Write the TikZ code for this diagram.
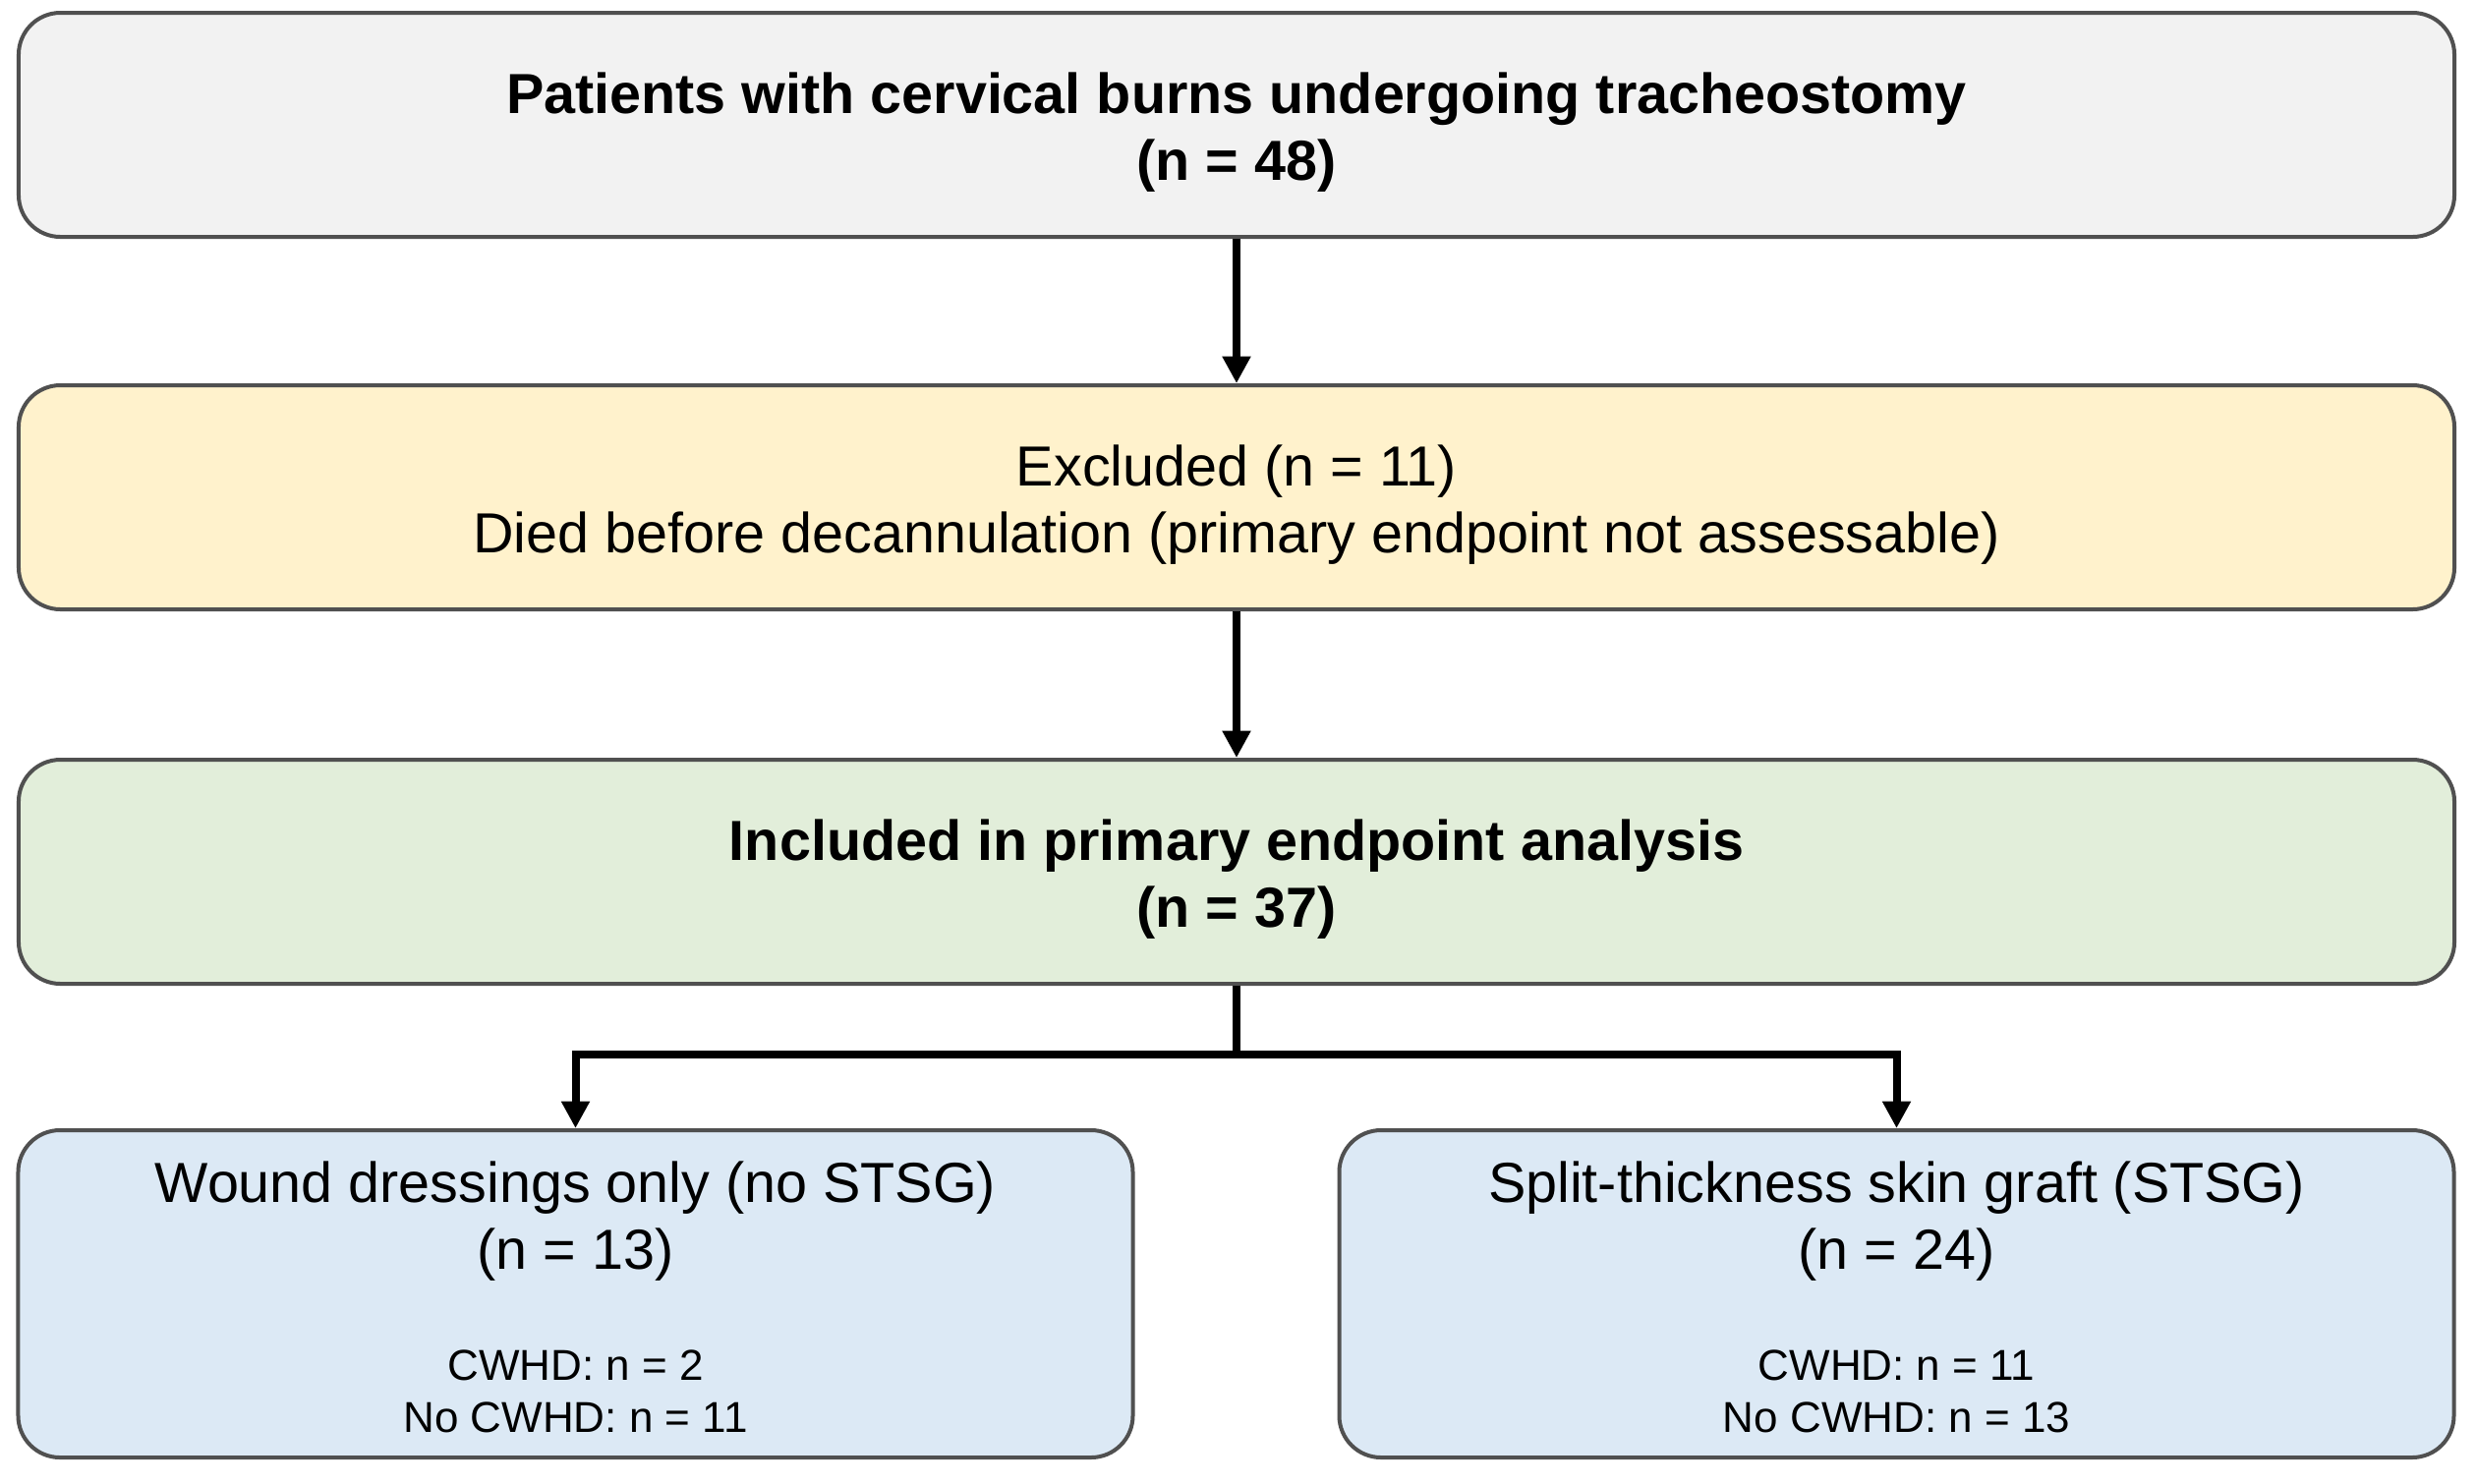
\documentclass[tikz,border=0pt]{standalone}
\usepackage{fontspec}
\setmainfont{Liberation Sans}
\usetikzlibrary{arrows.meta}
\definecolor{boxline}{HTML}{505050}
\definecolor{fgray}{HTML}{F2F2F2}
\definecolor{fyellow}{HTML}{FFF2CC}
\definecolor{fgreen}{HTML}{E2EEDA}
\definecolor{fblue}{HTML}{DCE9F5}
\tikzset{
  flowbox/.style={draw=boxline, line width=1.6pt, rounded corners=17pt, inner sep=0pt,
    align=center, text=black,
    font=\fontsize{23pt}{27.4pt}\selectfont},
  wide/.style={minimum width=991.2pt, minimum height=91.2pt},
  half/.style={minimum width=453.6pt, minimum height=133.2pt},
  conn/.style={line width=3.2pt, draw=black},
  arr/.style={conn, -{Triangle[width=11pt,length=11pt]}}
}
\newcommand{\smallfont}{\fontsize{17.6pt}{21.2pt}\selectfont}
\newcommand{\dnstrut}{\rule{0pt}{22.6pt}}
\newcommand{\dnstrutb}{\rule{0pt}{19pt}}
\begin{document}
\begin{tikzpicture}[x=0.4pt,y=-0.4pt]
\useasboundingbox (0,0) rectangle (2519,1509);
\node[flowbox, wide, fill=fgray] (top) at (1258,127)
  {\dnstrut\bfseries Patients with cervical burns undergoing tracheostomy\\\bfseries (n = 48)};
\node[flowbox, wide, fill=fyellow] (exc) at (1258,506)
  {\dnstrut Excluded (n = 11)\\Died before decannulation (primary endpoint not assessable)};
\node[flowbox, wide, fill=fgreen] (inc) at (1258,887)
  {\dnstrut\bfseries Included in primary endpoint analysis\\\bfseries (n = 37)};
\node[flowbox, half, fill=fblue] (left) at (585.5,1316.5)
  {\dnstrutb Wound dressings only (no STSG)\\(n = 13)\\[17.6pt]{\smallfont CWHD: n = 2}\\[-6.2pt]{\smallfont No CWHD: n = 11}};
\node[flowbox, half, fill=fblue] (right) at (1929.5,1316.5)
  {\dnstrutb Split-thickness skin graft (STSG)\\(n = 24)\\[17.6pt]{\smallfont CWHD: n = 11}\\[-6.2pt]{\smallfont No CWHD: n = 13}};
\coordinate (br) at (1258,1073);
\draw[arr] (top.south) -- (exc.north);
\draw[arr] (exc.south) -- (inc.north);
\draw[conn] (inc.south) -- (br);
\draw[arr] (br) -| (left.north);
\draw[arr] (br) -| (right.north);
\end{tikzpicture}
\end{document}
